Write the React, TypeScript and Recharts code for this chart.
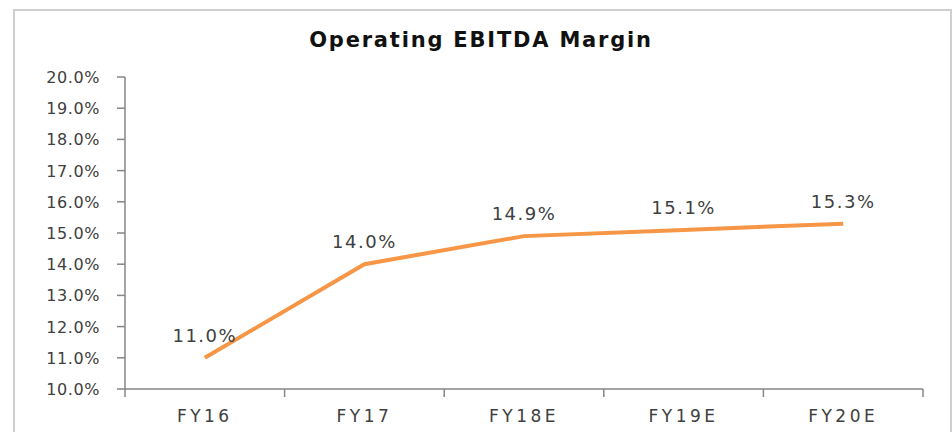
import React from 'react';
import { LineChart, Line, XAxis, YAxis, LabelList, Customized } from 'recharts';

const categories = ['FY16', 'FY17', 'FY18E', 'FY19E', 'FY20E'];
const margins = [11.0, 14.0, 14.9, 15.1, 15.3];
const yTicks = [10, 11, 12, 13, 14, 15, 16, 17, 18, 19, 20];
const title = 'Operating EBITDA Margin';

const data = categories.map((c, i) => ({ name: c, value: margins[i] }));

const W = 952;
const H = 432;
const M = { top: 77, right: 29, bottom: 0, left: 0 };
const Y_W = 125;
const X_H = 43;
const PLOT_W = W - M.left - M.right - Y_W;
const BAND = PLOT_W / categories.length;
const FONT = '"DejaVu Sans", sans-serif';
const TXT = '#404040';
const AXIS = '#868686';

const pct = (v: number) => v.toFixed(1) + '%';

const XTick = (props: any) => {
  const { x, y, payload, index } = props;
  const left = x - BAND / 2;
  const axisY = y - 8 - 11;
  return (
    <g>
      <line x1={left} x2={left} y1={axisY} y2={axisY + 8} stroke={AXIS} strokeWidth={1.5} />
      {index === categories.length - 1 && (
        <line x1={x + BAND / 2} x2={x + BAND / 2} y1={axisY} y2={axisY + 8} stroke={AXIS} strokeWidth={1.5} />
      )}
      <text x={x} y={axisY + 33} textAnchor="middle" fill={TXT} fontSize={17} fontFamily={FONT} style={{ letterSpacing: '3.5px' }}>
        {payload.value}
      </text>
    </g>
  );
};

const YTick = (props: any) => {
  const { x, y, payload } = props;
  return (
    <text x={x} y={y + 6} textAnchor="end" fill={TXT} fontSize={16} fontFamily={FONT} style={{ letterSpacing: '0.6px' }}>
      {pct(payload.value)}
    </text>
  );
};

const Title = () => (
  <text x={481} y={47} textAnchor="middle" fill="#111" fontSize={21} fontWeight="bold" fontFamily={FONT} style={{ letterSpacing: '1.8px' }}>
    {title}
  </text>
);

export default function App() {
  return (
    <div style={{ position: 'absolute', left: 0, top: 0, width: W, height: H, background: '#fff', overflow: 'hidden' }}>
      <div
        style={{
          position: 'absolute',
          left: 13,
          top: 9,
          width: 939,
          height: 423,
          border: '2px solid #cfcfcf',
          borderBottom: 'none',
          boxSizing: 'border-box',
        }}
      />
      <div style={{ position: 'absolute', left: 0, top: 0 }}>
        <LineChart width={W} height={H} data={data} margin={M}>
          <Customized component={Title} />
          <XAxis
            dataKey="name"
            height={X_H}
            stroke={AXIS}
            strokeWidth={1.5}
            tickLine={false}
            tickSize={8}
            tickMargin={11}
            tick={<XTick />}
            interval={0}
            padding={{ left: BAND / 2, right: BAND / 2 }}
          />
          <YAxis
            width={Y_W}
            domain={[10, 20]}
            ticks={yTicks}
            stroke={AXIS}
            strokeWidth={1.5}
            tickSize={8}
            tickMargin={17}
            tick={<YTick />}
            interval={0}
            allowDataOverflow
          />
          <Line
            type="linear"
            dataKey="value"
            stroke="#F79646"
            strokeWidth={4}
            dot={false}
            isAnimationActive={false}
          >
            <LabelList
              dataKey="value"
              position="top"
              offset={16}
              formatter={(v: any) => pct(Number(v))}
              fill={TXT}
              fontSize={18}
              fontFamily={FONT}
              style={{ letterSpacing: '1.5px' }}
            />
          </Line>
        </LineChart>
      </div>
    </div>
  );
}
